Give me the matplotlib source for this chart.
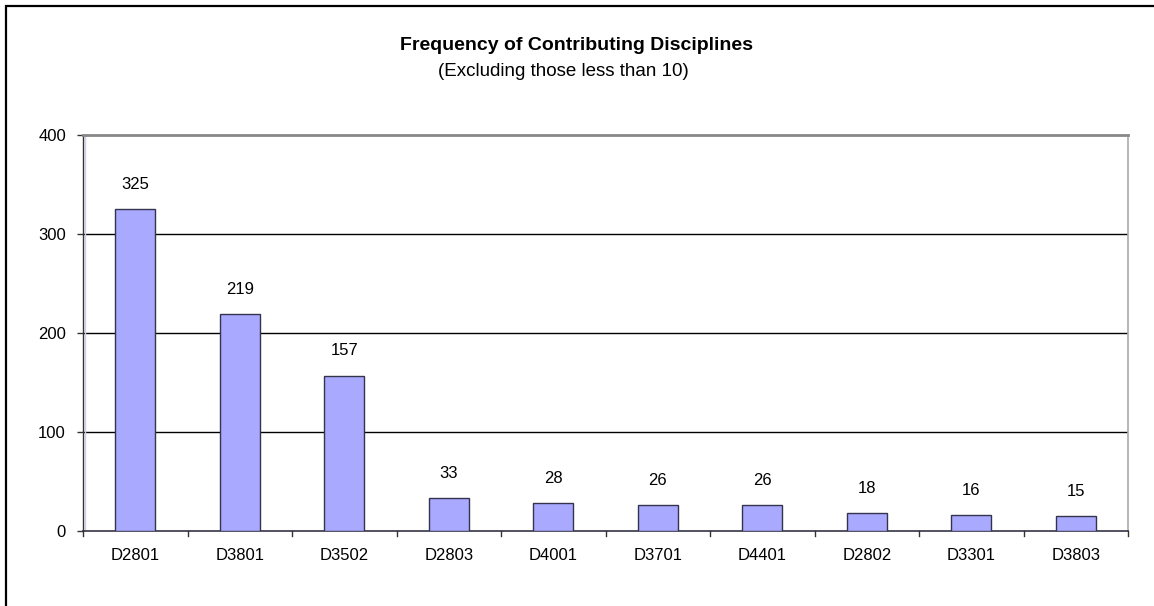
import matplotlib
matplotlib.use("Agg")
import matplotlib.pyplot as plt
from matplotlib.patches import Rectangle

# Discipline codes and their contribution counts
disciplines = ["D2801", "D3801", "D3502", "D2803", "D4001",
               "D3701", "D4401", "D2802", "D3301", "D3803"]
counts = [325, 219, 157, 33, 28, 26, 26, 18, 16, 15]
y_ticks = [0, 100, 200, 300, 400]

plt.rcParams["font.family"] = ["Liberation Sans", "DejaVu Sans"]

W, H, DPI = 1154, 606, 100
fig = plt.figure(figsize=(W / DPI, H / DPI), dpi=DPI)
fig.patch.set_facecolor("white")

def fx(px):
    return px / W

def fy(py):
    return 1 - py / H

ax_left, ax_right, ax_top, ax_bottom = 83, 1128, 135, 531
ax = fig.add_axes([fx(ax_left), fy(ax_bottom),
                   fx(ax_right - ax_left), (ax_bottom - ax_top) / H])

x = list(range(len(disciplines)))
bars = ax.bar(x, counts, width=0.385, color="#A9A9FF",
              edgecolor="#33334D", linewidth=1.0, zorder=3)

# value labels above each bar
for xi, v in zip(x, counts):
    ax.annotate(str(v), (xi, v), xytext=(0, 25), textcoords="offset pixels",
                ha="center", va="center", fontsize=12, color="black")

ax.set_xlim(-0.5, len(disciplines) - 0.5)
ax.set_ylim(0, 400)

ax.set_yticks(y_ticks)
ax.set_yticklabels([str(t) for t in y_ticks], fontsize=12)
ax.set_xticks(x)
ax.set_xticklabels(disciplines, fontsize=12)
ax.tick_params(axis="x", length=0, pad=12)
ax.tick_params(axis="y", length=4.3, width=1.0, pad=8, color="#333333")

# category-boundary tick marks along the bottom axis
for b in range(len(disciplines) + 1):
    ax.plot([b - 0.5, b - 0.5], [0, -0.0126], transform=ax.get_xaxis_transform(),
            color="#333333", linewidth=1.0, clip_on=False, zorder=4)

# horizontal gridlines
for t in y_ticks[1:-1]:
    ax.axhline(t, color="black", linewidth=1.0, zorder=1)

# faint inner edge of the plot area next to the value axis
ax.plot([0.002, 0.002], [0, 1], transform=ax.transAxes, color="#CFCFEA",
        linewidth=1.0, zorder=1)

ax.spines["top"].set_color("#888888")
ax.spines["top"].set_linewidth(2.0)
ax.spines["right"].set_color("#AAAAAA")
ax.spines["right"].set_linewidth(1.2)
ax.spines["left"].set_color("#333333")
ax.spines["left"].set_linewidth(1.0)
ax.spines["bottom"].set_color("#333344")
ax.spines["bottom"].set_linewidth(1.2)
ax.set_facecolor("white")

# titles
fig.text(fx(577), fy(45.5), "Frequency of Contributing Disciplines", ha="center",
         va="center", fontsize=14, fontweight="bold")
fig.text(fx(563), fy(71.5), "(Excluding those less than 10)", ha="center",
         va="center", fontsize=13.5)

# outer chart frame
frame = Rectangle((fx(6), -0.2), 1.2, fy(6) + 0.2, transform=fig.transFigure,
                  fill=False, edgecolor="black", linewidth=1.6, clip_on=False)
fig.patches.append(frame)

fig.savefig("out.png", dpi=DPI, facecolor="white")
